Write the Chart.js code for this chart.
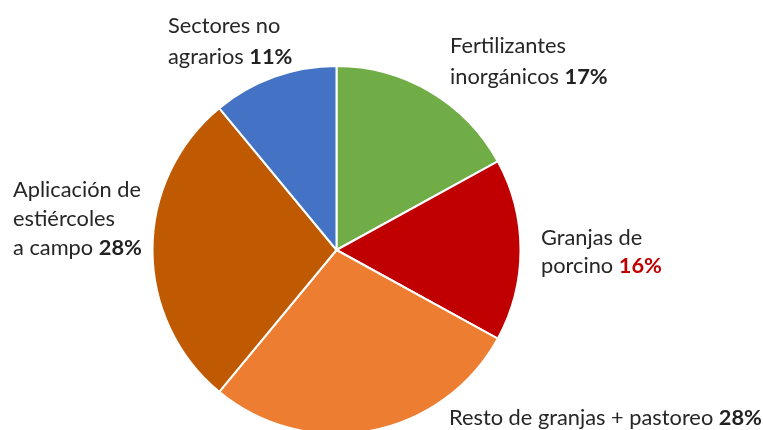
<!DOCTYPE html>
<html>
<head>
<meta charset="utf-8">
<script src="https://cdn.jsdelivr.net/npm/chart.js@4"></script>
<style>
  body { margin: 0; background: #fff; overflow: hidden; }
  #wrap { position: relative; width: 763px; height: 440px; }
</style>
</head>
<body>
<div id="wrap"><canvas id="pieChart"></canvas></div>
<script>
// data
const categories = [
    "Fertilizantes inorgánicos",
    "Granjas de porcino",
    "Resto de granjas + pastoreo",
    "Aplicación de estiércoles a campo",
    "Sectores no agrarios"
];
const shares = [17, 16, 28, 28, 11];
const sliceColors = ["#70AD47", "#C00000", "#ED7D31", "#BF5A03", "#4472C4"];

// how each label is broken into lines (last line gets the bold percentage)
const labelLines = [
    ["Fertilizantes", "inorgánicos"],
    ["Granjas de", "porcino"],
    ["Resto de granjas + pastoreo"],
    ["Aplicación de", "estiércoles", "a campo"],
    ["Sectores no", "agrarios"]
];
const pctColors = ["#222", "#C00000", "#222", "#222", "#222"];

// label anchor: left x, first baseline y, line step
const labelPos = [
    { x: 450, y: 53, step: 31 },
    { x: 541, y: 245, step: 28 },
    { x: 449, y: 425, step: 29 },
    { x: 13, y: 197, step: 29 },
    { x: 168, y: 33, step: 31 }
];

const FONT = "Lato, 'Open Sans', sans-serif";
const FONT_SIZE = 21.8;

const calloutLabels = {
    id: "calloutLabels",
    afterDraw(chart) {
        const ctx = chart.ctx;
        ctx.save();
        ctx.textBaseline = "alphabetic";
        ctx.textAlign = "left";
        labelLines.forEach((lines, i) => {
            const p = labelPos[i];
            lines.forEach((line, j) => {
                const y = p.y + j * p.step;
                ctx.font = FONT_SIZE + "px " + FONT;
                ctx.fillStyle = "#262626";
                ctx.fillText(line, p.x, y);
                if (j === lines.length - 1) {
                    const w = ctx.measureText(line + " ").width;
                    ctx.font = "bold " + FONT_SIZE + "px " + FONT;
                    ctx.fillStyle = pctColors[i];
                    ctx.fillText(shares[i] + "%", p.x + w, y);
                }
            });
        });
        ctx.restore();
    }
};

new Chart(document.getElementById("pieChart"), {
    type: "pie",
    data: {
        labels: categories,
        datasets: [{
            data: shares,
            backgroundColor: sliceColors,
            borderColor: "#ffffff",
            borderWidth: 2
        }]
    },
    options: {
        responsive: true,
        maintainAspectRatio: false,
        animation: false,
        layout: {
            padding: { left: 151, right: 241, top: 65, bottom: 5 }
        },
        plugins: {
            legend: { display: false },
            tooltip: { enabled: false }
        }
    },
    plugins: [calloutLabels]
});
</script>
</body>
</html>
